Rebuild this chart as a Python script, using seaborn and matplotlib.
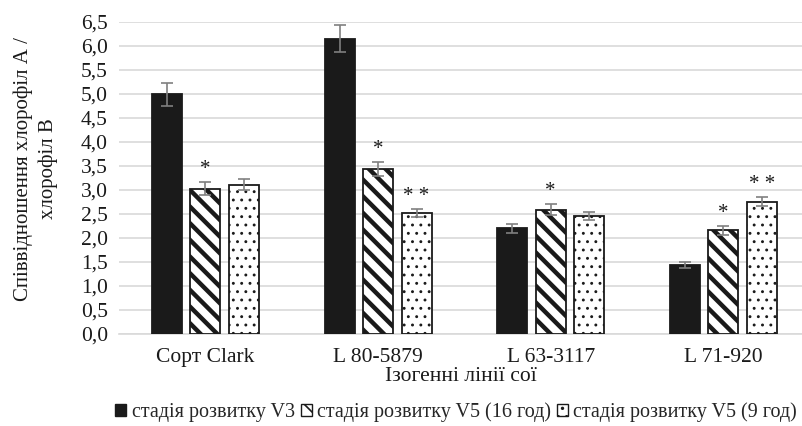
import seaborn as sns
import matplotlib.pyplot as plt
import pandas as pd
import numpy as np

# data
lines = ['Сорт Clark', 'L 80-5879', 'L 63-3117', 'L 71-920']
stages = ['стадія розвитку V3', 'стадія розвитку V5 (16 год)', 'стадія розвитку V5 (9 год)']
v3 = [4.99, 6.15, 2.20, 1.44]
v5_16 = [3.03, 3.44, 2.59, 2.16]
v5_9 = [3.11, 2.52, 2.46, 2.76]
err_v3 = [0.23, 0.28, 0.10, 0.06]
err_v5_16 = [0.14, 0.15, 0.12, 0.09]
err_v5_9 = [0.11, 0.09, 0.08, 0.10]
marks_v3 = ['', '', '', '']
marks_v5_16 = ['*', '*', '*', '*']
marks_v5_9 = ['', '* *', '', '* *']

sns.set_style('white')
plt.rcParams['font.family'] = ['Liberation Serif', 'DejaVu Serif']
plt.rcParams['hatch.linewidth'] = 3.2

df = pd.DataFrame({
    'line': lines * 3,
    'stage': [stages[0]] * 4 + [stages[1]] * 4 + [stages[2]] * 4,
    'value': v3 + v5_16 + v5_9,
})
errs = [err_v3, err_v5_16, err_v5_9]
marks = [marks_v3, marks_v5_16, marks_v5_9]

fig = plt.figure(figsize=(8.02, 4.26), dpi=100)
ax = fig.add_axes([119 / 802, 1 - 334 / 426, 683 / 802, 312 / 426])

sns.barplot(data=df, x='line', y='value', hue='stage', order=lines, hue_order=stages,
            palette=['#1a1a1a', 'white', 'white'], width=0.669, gap=0.22,
            errorbar=None, ax=ax, zorder=3, saturation=1)

hatches = [None, '\\\\', '..']
hatch_lw = [1.0, 3.2, 0.9]
bar_sets = list(ax.containers)
for i, cont in enumerate(bar_sets):
    xs = []
    for p in cont.patches:
        p.set_edgecolor('#1a1a1a')
        p.set_linewidth(1.3)
        if hatches[i]:
            p.set_hatch(hatches[i])
            if hasattr(p, 'set_hatch_linewidth'):
                p.set_hatch_linewidth(hatch_lw[i])
        xs.append(p.get_x() + p.get_width() / 2)
    vals = [p.get_height() for p in cont.patches]
    ax.errorbar(xs, vals, yerr=errs[i], fmt='none', ecolor='#808080', elinewidth=1.2,
                capsize=4, capthick=1.2, zorder=4)
    for x, v, e, m in zip(xs, vals, errs[i], marks[i]):
        if m:
            ax.text(x, v + e + 0.06, m, ha='center', va='bottom', fontsize=15, color='#1a1a1a')

ax.set_ylim(0, 6.5)
ax.set_xlim(-0.5, 3.455)
ticks = np.arange(0, 6.51, 0.5)
ax.set_yticks(ticks)
ax.set_yticklabels([f'{t:.1f}'.replace('.', ',') for t in ticks])
ax.yaxis.grid(True, color='#d9d9d9', linewidth=1.2, zorder=0)
ax.set_axisbelow(True)
for s in ['top', 'right', 'left']:
    ax.spines[s].set_visible(False)
ax.spines['bottom'].set_color('#d9d9d9')
ax.spines['bottom'].set_linewidth(1.2)
ax.tick_params(axis='both', length=0, labelsize=15.5, colors='#1a1a1a', pad=8)
ax.tick_params(axis='x', pad=10)

ax.set_xlabel('Ізогенні лінії сої', fontsize=15.5, color='#1a1a1a', labelpad=0)
ax.set_ylabel('Співвідношення хлорофіл А /\nхлорофіл В', fontsize=15, color='#1a1a1a',
              linespacing=1.35)
ax.yaxis.set_label_coords(-0.09, 0.53)

leg = ax.legend(loc='center', bbox_to_anchor=(456 / 802, 1 - 412 / 426),
                bbox_transform=fig.transFigure, ncol=3, frameon=False, fontsize=14.5,
                handlelength=0.55, handleheight=0.55, handletextpad=0.25, columnspacing=0.3)
for h, hh in zip(leg.legend_handles, hatches):
    h.set_edgecolor('#1a1a1a')
    h.set_linewidth(1.0)
    if hh:
        h.set_hatch(hh[:2])
        if hasattr(h, 'set_hatch_linewidth'):
            h.set_hatch_linewidth(1.2)

fig.savefig('out.png', dpi=100)
